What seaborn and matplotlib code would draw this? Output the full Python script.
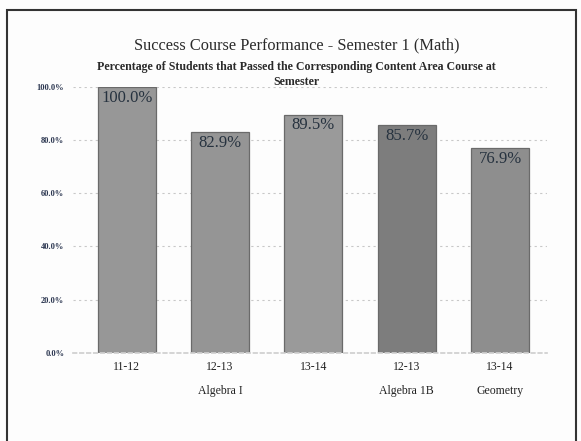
import matplotlib
matplotlib.use("Agg")
import matplotlib.pyplot as plt
import seaborn as sns
import pandas as pd
from matplotlib.patches import Rectangle
from matplotlib.transforms import blended_transform_factory

# Data
bar_keys = ["A", "B", "C", "D", "E"]
years = ["11-12", "12-13", "13-14", "12-13", "13-14"]
courses = ["", "Algebra I", "", "Algebra 1B", "Geometry"]
values = [100.0, 82.9, 89.5, 85.7, 76.9]
bar_colors = ["#979797", "#959595", "#9a9a9a", "#7d7d7d", "#8e8e8e"]
yticks = [0, 20, 40, 60, 80, 100]

df = pd.DataFrame({"key": bar_keys, "value": values})

sns.set_theme(style="white")
plt.rcParams["font.family"] = ["Liberation Serif", "DejaVu Serif"]

fig = plt.figure(figsize=(5.81, 4.41), dpi=100)
fig.patch.set_facecolor("#fdfdfd")
ax = fig.add_axes([0.125, 0.200, 0.816, 0.603])
ax.set_facecolor("#fdfdfd")

sns.barplot(data=df, x="key", y="value", hue="key", palette=bar_colors,
            legend=False, width=0.62, ax=ax, edgecolor="#6a6a6a", linewidth=0.9,
            saturation=1)

ax.set_ylim(0, 100)
ax.set_xlim(-0.58, 4.5)
ax.set_yticks(yticks)
ax.set_yticklabels([f"{t:.1f}%" for t in yticks], fontsize=6, color="#2b3650",
                   fontweight="bold")
ax.set_xticks(range(len(years)))
ax.set_xticklabels(years, fontsize=8.5, color="#222222")
ax.tick_params(axis="x", length=0, pad=6)
ax.tick_params(axis="y", length=0, pad=6)
ax.set_xlabel("")
ax.set_ylabel("")
ax.yaxis.grid(True, linestyle=(0, (2, 3)), color="#c8c8c8", linewidth=0.8)
ax.set_axisbelow(True)
for s in ["top", "right", "left"]:
    ax.spines[s].set_visible(False)
ax.spines["bottom"].set_color("#d0d0d0")
ax.spines["bottom"].set_linestyle((0, (2, 2)))

# value labels
for i, v in enumerate(values):
    ax.text(i, v - 1.0, f"{v:.1f}%", ha="center", va="top", fontsize=12,
            color="#26323f")

# course group labels
trans = blended_transform_factory(ax.transData, ax.transAxes)
for i, c in enumerate(courses):
    if c:
        ax.text(i, -0.12, c, ha="center", va="top", fontsize=8.5,
                color="#222222", transform=trans)

fig.text(0.51, 0.880, "Success Course Performance - Semester 1 (Math)",
         ha="center", va="bottom", fontsize=11.8, color="#2a2a2a")
fig.text(0.51, 0.862, "Percentage of Students that Passed the Corresponding Content Area Course at",
         ha="center", va="top", fontsize=8.6, fontweight="bold", color="#2a2a2a")
fig.text(0.51, 0.828, "Semester",
         ha="center", va="top", fontsize=8.6, fontweight="bold", color="#2a2a2a")

# outer frame
fig.patches.append(Rectangle((0.012, -0.05), 0.98, 1.028, transform=fig.transFigure,
                             fill=False, edgecolor="#333333", linewidth=1.5))

fig.savefig("out.png", dpi=100)
